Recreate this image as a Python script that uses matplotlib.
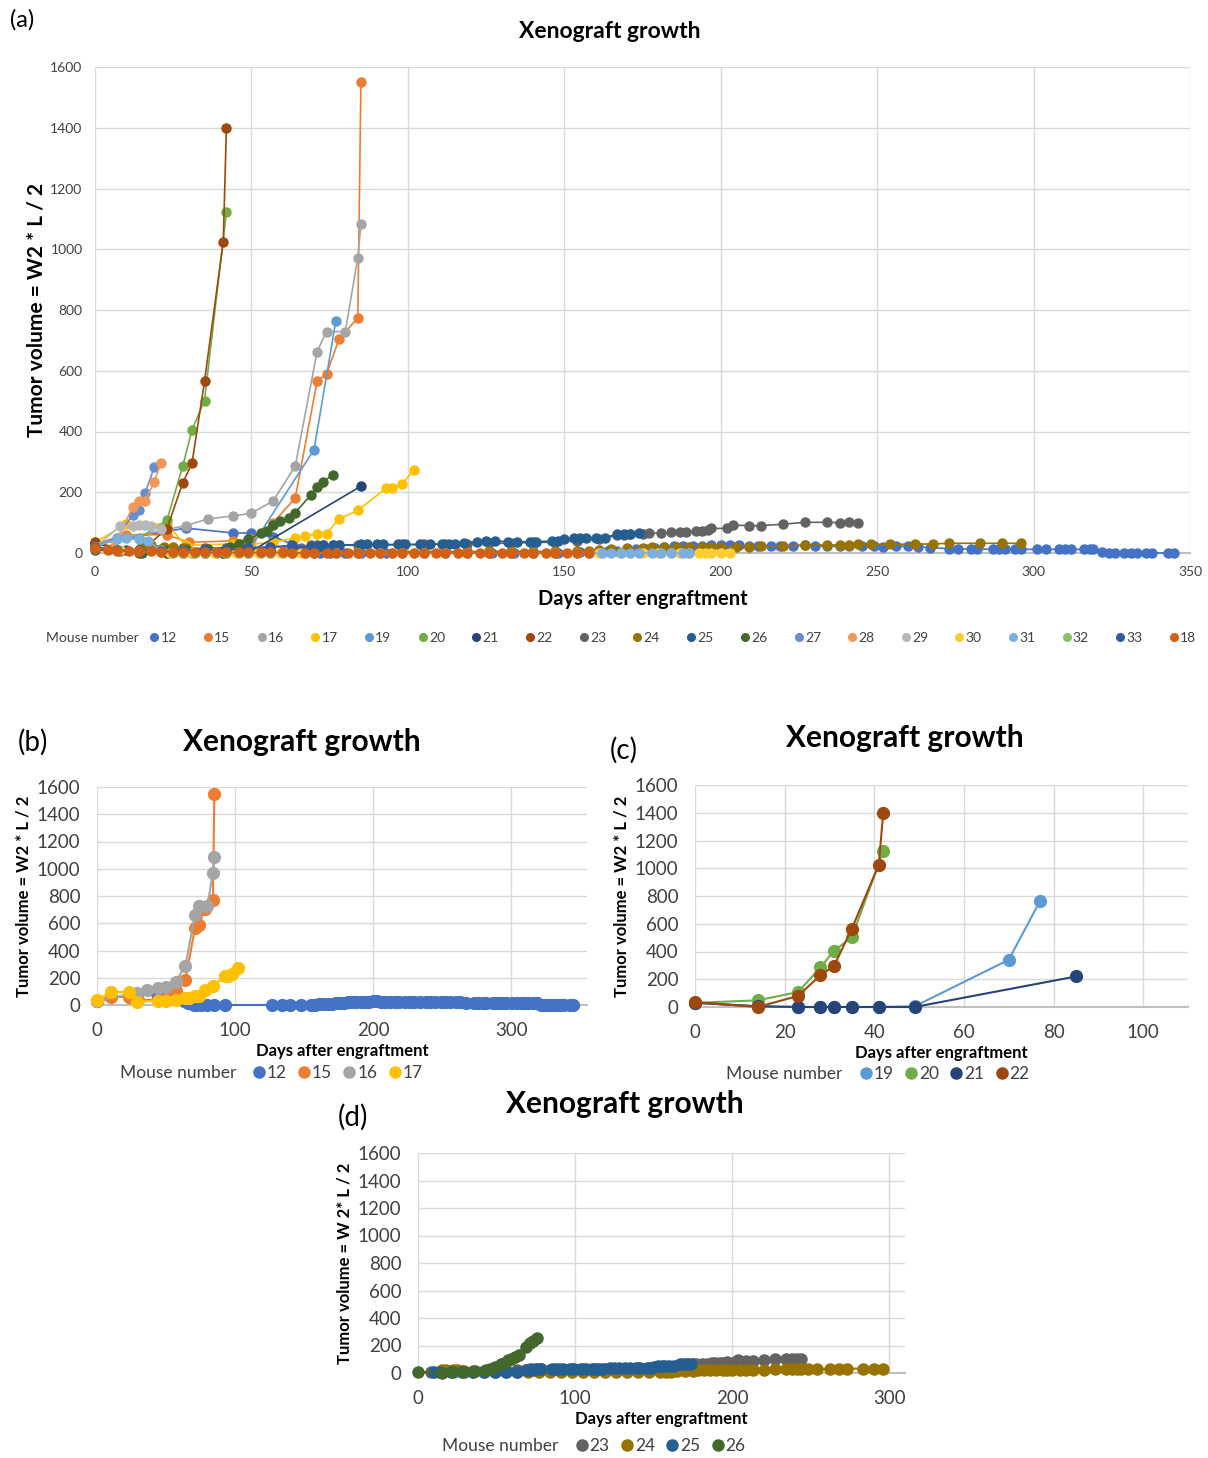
import matplotlib
matplotlib.use("Agg")
import matplotlib.pyplot as plt
from matplotlib.lines import Line2D

plt.rcParams['font.family'] = ['Lato', 'DejaVu Sans']

# ---- data: days after engraftment / tumor volume per mouse ----
d12 = [0, 29, 44, 50, 57, 63, 66, 70, 72, 75, 80, 85, 93, 127, 134, 140, 148, 155, 158, 161, 164, 167,
       170, 173, 176, 179, 182, 185, 188, 191, 194, 197, 200, 203, 206, 209, 212, 216, 219, 223, 227,
       230, 234, 238, 241, 245, 249, 252, 256, 260, 263, 267, 273, 276, 280, 282, 287, 289, 291, 294,
       296, 301, 304, 308, 310, 312, 316, 318, 319, 322, 324, 326, 329, 331, 333, 336, 338, 343, 345]
v12 = [30, 82, 66, 66, 53, 30, 15, 2, 0, 0, 0, 0, 0, 0, 0, 0, 0, 2, 3, 5, 8, 8,
       10, 12, 12, 18, 20, 22, 22, 24, 24, 25, 26, 26, 25, 24, 24, 22, 24, 24, 25,
       24, 22, 22, 24, 24, 22, 20, 22, 22, 20, 18, 14, 14, 13, 13, 12, 12, 12, 12,
       12, 12, 12, 12, 12, 12, 12, 12, 12, 2, 1, 0, 0, 0, 0, 0, 0, 0, 0]

d15 = [0, 10, 23, 30, 44, 50, 57, 64, 71, 74, 78, 84, 85]
v15 = [30, 60, 60, 35, 40, 45, 100, 181, 566, 589, 704, 774, 1551]

d16 = [0, 29, 36, 44, 50, 57, 64, 71, 74, 80, 84, 85]
v16 = [30, 90, 112, 122, 131, 172, 286, 663, 729, 729, 972, 1083]

d17 = [0, 10, 23, 29, 44, 50, 57, 64, 67, 71, 74, 78, 84, 93, 95, 98, 102]
v17 = [35, 95, 95, 25, 30, 30, 35, 50, 55, 64, 64, 112, 140, 213, 213, 226, 273]

d19 = [0, 14, 23, 28, 31, 35, 41, 49, 70, 77]
v19 = [30, 5, 0, 0, 0, 0, 0, 5, 340, 765]

d20 = [0, 14, 23, 28, 31, 35, 42]
v20 = [30, 48, 108, 285, 405, 502, 1123]

d21 = [0, 14, 23, 28, 31, 35, 41, 49, 85]
v21 = [30, 5, 0, 0, 0, 0, 0, 0, 220]

d22 = [0, 14, 23, 28, 31, 35, 41, 42]
v22 = [35, 0, 80, 230, 295, 565, 1025, 1400]

d23 = [8, 14, 21, 28, 35, 42, 49, 56, 63, 69, 71, 73, 76, 78, 84, 91, 98, 105, 112, 119, 126, 133,
       140, 147, 154, 161, 167, 169, 171, 175, 177, 181, 184, 187, 189, 192, 194, 196, 197, 202, 204,
       209, 213, 220, 227, 234, 238, 241, 244]
v23 = [5, 10, 12, 15, 15, 18, 18, 20, 20, 25, 26, 26, 26, 26, 25, 25, 28, 28, 30, 30, 32, 32,
       35, 35, 40, 45, 58, 60, 62, 63, 65, 66, 68, 70, 70, 71, 73, 76, 81, 81, 92,
       90, 90, 95, 101, 101, 100, 101, 100]

d24 = [15, 18, 22, 25, 29, 35, 42, 49, 56, 63, 70, 77, 84, 91, 98, 105, 112, 119, 126, 133, 140, 147,
       154, 158, 161, 165, 170, 175, 178, 182, 186, 190, 194, 197, 200, 205, 209, 213, 220, 227, 234,
       238, 241, 244, 248, 254, 262, 268, 273, 283, 290, 296]
v24 = [25, 25, 20, 20, 15, 10, 8, 8, 5, 5, 5, 5, 5, 5, 5, 5, 5, 5, 5, 5, 5, 5,
       5, 8, 10, 12, 15, 18, 20, 20, 20, 20, 20, 21, 21, 21, 21, 22, 24, 26, 26,
       27, 27, 28, 28, 29, 29, 30, 32, 32, 32, 32]

d25 = [10, 14, 21, 28, 35, 42, 49, 56, 63, 69, 71, 73, 76, 78, 85, 87, 90, 92, 97, 99, 104, 107, 111,
       113, 115, 118, 122, 125, 128, 132, 135, 139, 141, 146, 148, 150, 153, 155, 157, 160, 163, 167,
       169, 171, 174]
v25 = [10, 10, 8, 5, 5, 5, 5, 5, 10, 20, 24, 25, 26, 26, 28, 28, 28, 28, 28, 28, 28, 28, 30,
       30, 30, 32, 37, 40, 40, 37, 37, 37, 37, 40, 40, 46, 48, 51, 51, 51, 51, 62,
       62, 62, 66]

d26 = [0, 15, 22, 29, 36, 43, 46, 49, 53, 55, 57, 59, 62, 64, 69, 71, 73, 76]
v26 = [10, 0, 10, 10, 12, 20, 30, 45, 65, 72, 92, 105, 114, 133, 191, 218, 235, 258]

d27 = [0, 7, 12, 14, 16, 19]
v27 = [20, 50, 125, 140, 197, 284]

d28 = [0, 6, 12, 14, 16, 19, 21]
v28 = [15, 20, 150, 172, 172, 235, 297]

d29 = [0, 8, 12, 14, 16, 18, 21]
v29 = [20, 88, 90, 92, 92, 90, 80]

d30 = [0, 8, 14, 21, 24, 28, 31, 35, 38, 42, 45, 49, 52, 56, 59, 63, 66, 70, 77, 84, 91, 95, 98, 102,
       105, 112, 119, 126, 133, 140, 147, 154, 161, 168, 175, 180, 184, 187, 190, 193, 195, 197, 200, 203]
v30 = [20, 10, 5, 2, 0, 0, 0, 0, 0, 0, 0, 0, 0, 0, 0, 0, 0, 0, 0, 0, 0, 0, 0, 0,
       0, 0, 0, 0, 0, 0, 0, 0, 0, 0, 0, 0, 0, 0, 0, 0, 0, 0, 0, 0]

d31 = [0, 7, 10, 14, 17, 21, 28, 35, 42, 49, 56, 63, 70, 77, 84, 91, 98, 105, 112, 119, 126, 133, 140,
       147, 154, 158, 162, 165, 168, 171, 174, 178, 181, 184, 188, 190]
v31 = [20, 45, 50, 45, 40, 10, 5, 0, 0, 0, 0, 0, 0, 0, 0, 0, 0, 0, 0, 0, 0, 0, 0,
       0, 0, 0, 0, 0, 0, 0, 0, 0, 0, 0, 0, 0]

d32 = [0, 7, 14, 21, 25, 28, 32, 35, 39, 42, 46, 49, 53, 56, 60, 63, 67, 70]
v32 = [20, 10, 5, 2, 0, 0, 0, 0, 0, 0, 0, 0, 0, 0, 0, 0, 0, 0]

d33 = [0, 7, 14, 21, 28, 35, 42, 49, 56, 63, 70, 75]
v33 = [20, 10, 5, 5, 8, 10, 10, 15, 20, 25, 10, 5]

d18 = [0, 4, 7, 11, 14, 18, 21, 25, 28, 32, 35, 39, 42, 46, 49, 53, 56, 60, 63, 67, 70, 74, 77, 81,
       84, 88, 91, 95, 98, 102, 105, 109, 112, 116, 119, 123, 126, 130, 133, 137, 140, 144, 147,
       151, 154, 158]
v18 = [15, 10, 8, 5, 5, 5, 3, 3, 2, 2, 2, 2, 2, 2, 2, 2, 2, 2, 0, 0, 0, 0, 0, 0,
       0, 0, 0, 0, 0, 0, 0, 0, 0, 0, 0, 0, 0, 0, 0, 0, 0, 0, 0,
       0, 0, 0]

mice = ['12', '15', '16', '17', '19', '20', '21', '22', '23', '24', '25', '26',
        '27', '28', '29', '30', '31', '32', '33', '18']
colors = ['#4472C4', '#ED7D31', '#A5A5A5', '#FFC000', '#5B9BD5', '#70AD47', '#264478', '#9E480E',
          '#636363', '#997300', '#255E91', '#43682B', '#698ED0', '#F1975A', '#B7B7B7', '#FFCD33',
          '#7CAFDD', '#8CC168', '#335AA1', '#D35F14']

series = {
    '12': (d12, v12), '15': (d15, v15), '16': (d16, v16), '17': (d17, v17),
    '19': (d19, v19), '20': (d20, v20), '21': (d21, v21), '22': (d22, v22),
    '23': (d23, v23), '24': (d24, v24), '25': (d25, v25), '26': (d26, v26),
    '27': (d27, v27), '28': (d28, v28), '29': (d29, v29), '30': (d30, v30),
    '31': (d31, v31), '32': (d32, v32), '33': (d33, v33), '18': (d18, v18),
}
col = dict(zip(mice, colors))

W, H = 1208, 1458
fig = plt.figure(figsize=(W / 100, H / 100), dpi=100)


def px_axes(l, t, r, b):
    return fig.add_axes([l / W, 1 - b / H, (r - l) / W, (b - t) / H])


def style(ax, xmax, xticks, fs, pad):
    ax.set_xlim(0, xmax)
    ax.set_ylim(0, 1600)
    ax.set_xticks(xticks)
    ax.set_yticks(range(0, 1601, 200))
    ax.grid(True, color='#D9D9D9', lw=1.0)
    ax.set_axisbelow(True)
    for s in ['top', 'right', 'left']:
        ax.spines[s].set_visible(False)
    ax.spines['bottom'].set_color('#BFBFBF')
    ax.spines['bottom'].set_linewidth(1.5)
    ax.tick_params(length=0, labelsize=fs, labelcolor='#404040', pad=pad)


def draw(ax, keys, ms, lw):
    for k in keys:
        d, v = series[k]
        ax.plot(d, v, '-o', color=col[k], ms=ms, lw=lw, clip_on=False, zorder=3)


def title(x, y, fs):
    fig.text(x / W, 1 - y / H, 'Xenograft growth', fontsize=fs, fontweight='bold',
             ha='center', va='center')


def legend(keys, x, y, fs, ms, gap, cs):
    fig.text(x / W, 1 - y / H, 'Mouse number', fontsize=fs, color='#404040', va='center')
    hs = [Line2D([], [], ls='', marker='o', color=col[k], ms=ms) for k in keys]
    fig.legend(hs, keys, loc='center left', bbox_to_anchor=((x + gap) / W, 1 - y / H),
               ncol=len(keys), frameon=False, fontsize=fs, handlelength=0.6,
               handletextpad=0.15, columnspacing=cs, labelcolor='#404040', borderpad=0)


# ---- (a) all mice ----
axa = px_axes(95, 67, 1190, 553)
style(axa, 350, range(0, 351, 50), 10, 9)
draw(axa, mice, 6.5, 1.2)
title(610, 32, 16.5)
axa.set_xlabel('Days after engraftment', fontsize=14.5, fontweight='bold', labelpad=8)
axa.set_ylabel('Tumor volume = W2 * L / 2', fontsize=15, fontweight='bold', labelpad=3)
fig.text(10 / W, 1 - 20 / H, '(a)', fontsize=17, va='center')
legend(mice, 46, 638, 10, 5.5, 97, 1.95)

# ---- (b) mice 12-17 ----
keys_b = ['12', '15', '16', '17']
axb = px_axes(97, 787, 587, 1005)
style(axb, 355, [0, 100, 200, 300], 13.5, 12)
draw(axb, keys_b, 8.5, 1.5)
title(302, 742, 21.5)
axb.set_xlabel('Days after engraftment', fontsize=12, fontweight='bold', labelpad=3)
axb.set_ylabel('Tumor volume = W2 * L / 2', fontsize=12, fontweight='bold', labelpad=4)
fig.text(18 / W, 1 - 742 / H, '(b)', fontsize=20, va='center')
legend(keys_b, 120, 1073, 12.5, 8, 125, 0.7)

# ---- (c) mice 19-22 ----
keys_c = ['19', '20', '21', '22']
axc = px_axes(695, 785, 1188, 1007)
style(axc, 110, range(0, 101, 20), 13.5, 12)
draw(axc, keys_c, 8.5, 1.5)
title(905, 738, 21.5)
axc.set_xlabel('Days after engraftment', fontsize=12, fontweight='bold', labelpad=3)
axc.set_ylabel('Tumor volume = W2 * L / 2', fontsize=12, fontweight='bold', labelpad=4)
fig.text(610 / W, 1 - 750 / H, '(c)', fontsize=20, va='center')
legend(keys_c, 726, 1074, 12.5, 8, 126, 0.7)

# ---- (d) mice 23-26 ----
keys_d = ['23', '24', '25', '26']
axd = px_axes(418, 1153, 905, 1373)
style(axd, 310, [0, 100, 200, 300], 13.5, 12)
draw(axd, keys_d, 8, 1.5)
title(625, 1104, 21.5)
axd.set_xlabel('Days after engraftment', fontsize=12, fontweight='bold', labelpad=3)
axd.set_ylabel('Tumor volume = W 2* L / 2', fontsize=12, fontweight='bold', labelpad=4)
fig.text(338 / W, 1 - 1117 / H, '(d)', fontsize=20, va='center')
legend(keys_d, 442, 1446, 12.5, 8, 126, 0.7)

fig.savefig('out.png', dpi=100)
